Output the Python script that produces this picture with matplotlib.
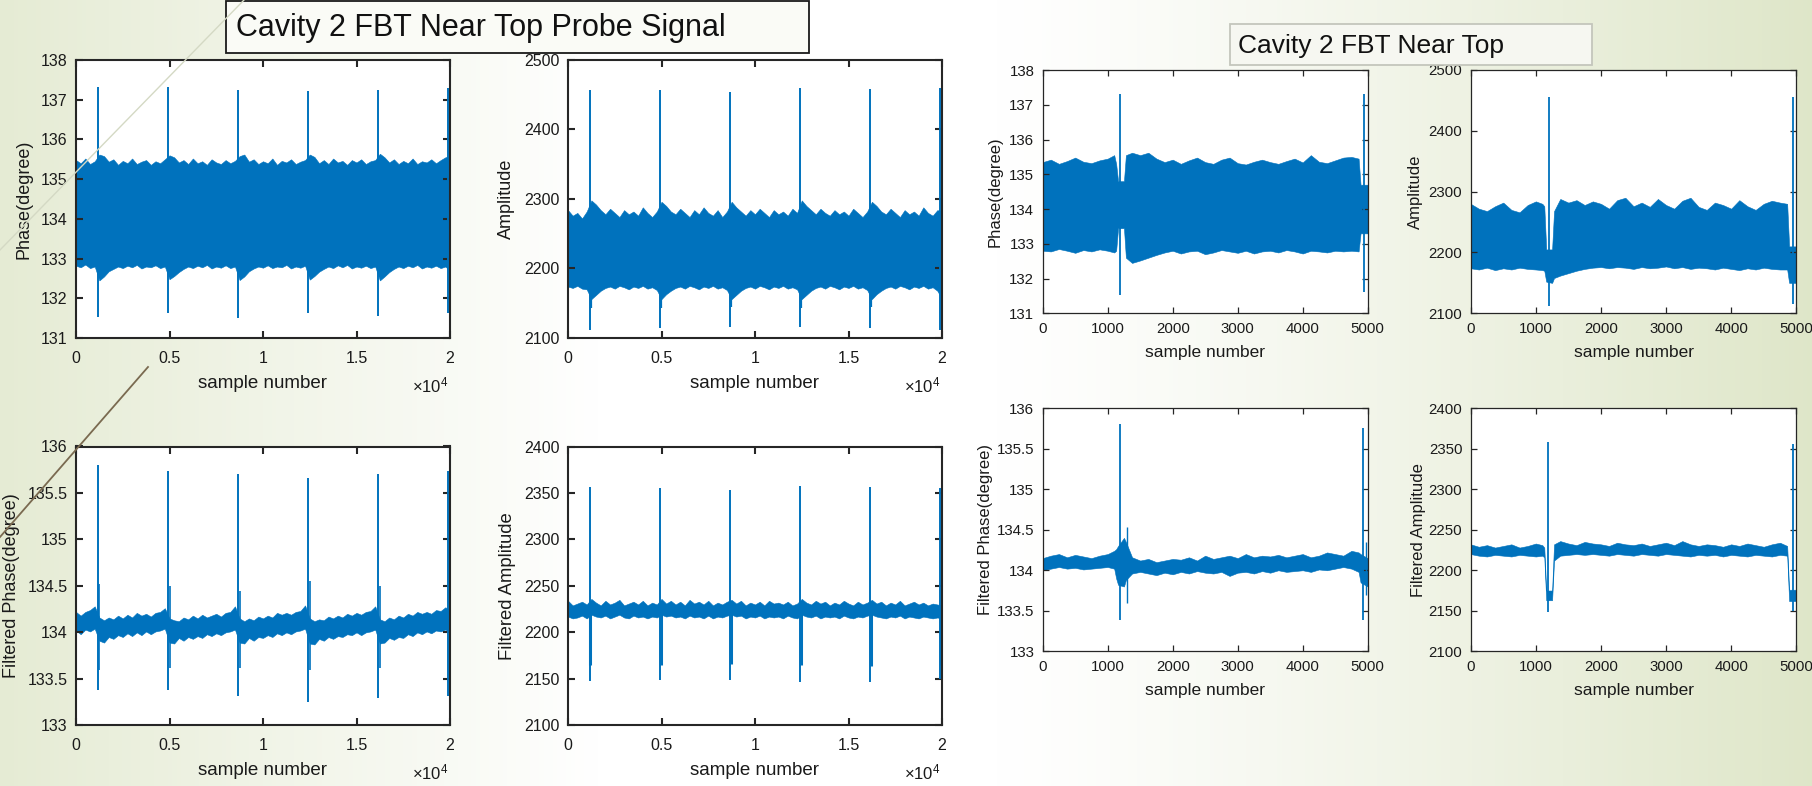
import numpy as np
import matplotlib
matplotlib.use("Agg")
import matplotlib.pyplot as plt
from matplotlib import font_manager as fm
from matplotlib.patches import Rectangle
from matplotlib.lines import Line2D

# ---------------- data ----------------
# left group: 20000 samples, envelope every 250 samples
L_x = np.arange(0, 20001, 250)
L_spike_x = [1150, 4900, 8650, 12400, 16150, 19900]
L_xticks = [0, 5000, 10000, 15000, 20000]
L_xticklabels = ["0", "0.5", "1", "1.5", "2"]

A_upper = [135.48, 135.40, 135.52, 135.38, 135.45, 135.62, 135.58, 135.44, 135.50, 135.36,
           135.46, 135.40, 135.52, 135.38, 135.44, 135.48, 135.36, 135.45, 135.40, 135.50,
           135.60, 135.55, 135.42, 135.48, 135.38, 135.52, 135.40, 135.45, 135.36, 135.50,
           135.42, 135.38, 135.48, 135.40, 135.46, 135.58, 135.62, 135.44, 135.50, 135.38,
           135.45, 135.40, 135.52, 135.36, 135.46, 135.42, 135.50, 135.38, 135.44, 135.48,
           135.62, 135.56, 135.40, 135.48, 135.38, 135.52, 135.42, 135.46, 135.36, 135.48,
           135.42, 135.50, 135.38, 135.45, 135.48, 135.64, 135.55, 135.42, 135.50, 135.38,
           135.46, 135.40, 135.52, 135.38, 135.45, 135.42, 135.50, 135.40, 135.48, 135.55,
           135.58]
A_lower = [132.82, 132.78, 132.85, 132.76, 132.80, 132.45, 132.55, 132.68, 132.74, 132.80,
           132.76, 132.82, 132.78, 132.84, 132.75, 132.80, 132.78, 132.83, 132.76, 132.80,
           132.48, 132.56, 132.66, 132.74, 132.80, 132.76, 132.82, 132.78, 132.84, 132.75,
           132.80, 132.77, 132.83, 132.76, 132.80, 132.46, 132.55, 132.68, 132.75, 132.80,
           132.77, 132.83, 132.76, 132.80, 132.78, 132.84, 132.75, 132.80, 132.77, 132.82,
           132.47, 132.56, 132.67, 132.74, 132.80, 132.76, 132.83, 132.78, 132.84, 132.75,
           132.80, 132.77, 132.82, 132.76, 132.80, 132.45, 132.55, 132.66, 132.74, 132.80,
           132.76, 132.82, 132.78, 132.84, 132.75, 132.80, 132.77, 132.82, 132.76, 132.80,
           132.70]
A_spike_top = [137.31, 137.31, 137.25, 137.22, 137.25, 137.30]
A_spike_bot = [131.53, 131.62, 131.50, 131.62, 131.55, 131.62]

B_upper = [2284, 2276, 2280, 2272, 2282, 2298, 2292, 2284, 2278, 2286,
           2280, 2274, 2284, 2278, 2282, 2276, 2288, 2280, 2274, 2282,
           2296, 2290, 2282, 2278, 2286, 2280, 2274, 2284, 2278, 2288,
           2280, 2276, 2284, 2274, 2282, 2296, 2288, 2282, 2276, 2284,
           2278, 2286, 2280, 2274, 2284, 2278, 2282, 2276, 2286, 2280,
           2298, 2290, 2284, 2278, 2286, 2280, 2276, 2284, 2278, 2282,
           2276, 2286, 2280, 2274, 2282, 2296, 2290, 2282, 2278, 2286,
           2280, 2274, 2284, 2278, 2282, 2276, 2288, 2280, 2276, 2284,
           2282]
B_lower = [2174, 2172, 2175, 2171, 2170, 2156, 2162, 2168, 2172, 2174,
           2171, 2175, 2173, 2170, 2174, 2172, 2175, 2171, 2173, 2169,
           2156, 2163, 2168, 2172, 2174, 2171, 2175, 2173, 2170, 2174,
           2172, 2175, 2171, 2173, 2169, 2156, 2162, 2168, 2172, 2174,
           2171, 2175, 2173, 2170, 2174, 2172, 2175, 2171, 2173, 2170,
           2156, 2162, 2168, 2172, 2174, 2171, 2175, 2173, 2170, 2174,
           2172, 2175, 2171, 2173, 2169, 2156, 2163, 2168, 2172, 2174,
           2171, 2175, 2173, 2170, 2174, 2172, 2175, 2171, 2173, 2168,
           2156]
B_spike_top = [2457, 2457, 2454, 2459, 2458, 2459]
B_spike_bot = [2112, 2114, 2116, 2116, 2115, 2112]
B_notch_x = [1220, 4970, 8720, 12470, 16220, 19960]
B_notch_lo = [2143, 2143, 2145, 2143, 2144, 2140]
B_notch_hi = [2280, 2280, 2280, 2280, 2280, 2280]

C_upper = [134.22, 134.18, 134.22, 134.24, 134.28, 134.16, 134.13, 134.16, 134.14, 134.18,
           134.15, 134.19, 134.16, 134.21, 134.18, 134.20, 134.17, 134.21, 134.22, 134.26,
           134.15, 134.13, 134.12, 134.16, 134.14, 134.18, 134.15, 134.19, 134.16, 134.18,
           134.20, 134.17, 134.21, 134.22, 134.28, 134.15, 134.12, 134.15, 134.13, 134.17,
           134.15, 134.18, 134.16, 134.21, 134.19, 134.21, 134.19, 134.22, 134.23, 134.29,
           134.15, 134.12, 134.14, 134.13, 134.17, 134.15, 134.18, 134.16, 134.20, 134.18,
           134.21, 134.19, 134.22, 134.23, 134.28, 134.14, 134.12, 134.16, 134.14, 134.18,
           134.16, 134.20, 134.18, 134.22, 134.20, 134.22, 134.20, 134.24, 134.23, 134.27,
           134.24]
C_lower = [134.02, 133.98, 134.03, 134.01, 134.04, 133.91, 133.89, 133.95, 133.93, 133.97,
           133.95, 133.99, 133.96, 134.00, 133.97, 134.01, 133.98, 134.01, 134.02, 134.04,
           133.89, 133.88, 133.94, 133.91, 133.95, 133.93, 133.96, 133.94, 133.98, 133.96,
           133.99, 133.97, 134.00, 134.01, 134.03, 133.89, 133.88, 133.94, 133.91, 133.95,
           133.94, 133.97, 133.95, 133.99, 133.97, 134.00, 133.98, 134.01, 134.02, 134.04,
           133.88, 133.87, 133.93, 133.91, 133.95, 133.93, 133.96, 133.95, 133.98, 133.97,
           134.00, 133.97, 134.00, 134.01, 134.03, 133.88, 133.89, 133.94, 133.92, 133.95,
           133.94, 133.98, 133.96, 134.00, 133.98, 134.01, 133.99, 134.02, 134.01, 134.03,
           134.00]
C_spike_top = [135.80, 135.74, 135.70, 135.66, 135.70, 135.74]
C_spike_bot = [133.38, 133.38, 133.31, 133.25, 133.29, 133.31]
C_sec_x = [1250, 5000, 8750, 12500, 16250, 19980]
C_sec_lo = [133.60, 133.62, 133.62, 133.60, 133.62, 133.60]
C_sec_hi = [134.52, 134.50, 134.45, 134.55, 134.50, 134.40]

D_upper = [2234, 2229, 2231, 2233, 2230, 2236, 2232, 2229, 2234, 2230,
           2232, 2235, 2229, 2231, 2233, 2230, 2234, 2229, 2232, 2230,
           2236, 2231, 2234, 2230, 2233, 2229, 2235, 2231, 2233, 2230,
           2234, 2229, 2232, 2230, 2233, 2235, 2231, 2234, 2229, 2232,
           2230, 2233, 2229, 2234, 2231, 2232, 2230, 2233, 2229, 2231,
           2236, 2232, 2230, 2234, 2231, 2233, 2229, 2232, 2230, 2234,
           2231, 2229, 2233, 2230, 2232, 2235, 2231, 2233, 2229, 2232,
           2230, 2234, 2229, 2231, 2233, 2230, 2232, 2229, 2231, 2230,
           2229]
D_lower = [2217, 2215, 2216, 2218, 2215, 2219, 2217, 2216, 2218, 2215,
           2217, 2219, 2216, 2215, 2218, 2216, 2217, 2215, 2217, 2216,
           2219, 2217, 2218, 2216, 2217, 2215, 2218, 2216, 2217, 2215,
           2218, 2215, 2217, 2216, 2218, 2219, 2217, 2218, 2215, 2217,
           2216, 2218, 2215, 2217, 2216, 2217, 2215, 2218, 2216, 2215,
           2219, 2217, 2216, 2218, 2215, 2217, 2216, 2217, 2215, 2218,
           2216, 2215, 2217, 2216, 2218, 2219, 2217, 2216, 2215, 2217,
           2216, 2218, 2215, 2217, 2216, 2215, 2217, 2216, 2215, 2216,
           2215]
D_spike_top = [2356, 2355, 2353, 2357, 2356, 2355]
D_spike_bot = [2148, 2149, 2149, 2147, 2147, 2150]
D_notch_x = [1200, 4950, 8700, 12450, 16200, 19950]
D_notch_lo = [2165, 2165, 2166, 2165, 2164, 2165]
D_notch_hi = [2220, 2220, 2220, 2220, 2220, 2220]

# right group: 5000 samples
R_x = [0, 125, 250, 375, 500, 625, 750, 875, 1000, 1100, 1130, 1160, 1250, 1280, 1375,
       1500, 1625, 1750, 1875, 2000, 2125, 2250, 2375, 2500, 2625, 2750, 2875, 3000, 3125,
       3250, 3375, 3500, 3625, 3750, 3875, 4000, 4125, 4250, 4375, 4500, 4625, 4750, 4860,
       4890, 5000]
R_xticks = [0, 1000, 2000, 3000, 4000, 5000]

E_upper = [135.35, 135.42, 135.30, 135.38, 135.48, 135.36, 135.32, 135.40, 135.45, 135.55,
           135.30, 134.80, 134.80, 135.55, 135.62, 135.55, 135.62, 135.45, 135.35, 135.42,
           135.30, 135.40, 135.48, 135.35, 135.30, 135.42, 135.48, 135.32, 135.28, 135.36,
           135.42, 135.35, 135.30, 135.38, 135.45, 135.34, 135.55, 135.36, 135.32, 135.40,
           135.48, 135.50, 135.45, 134.70, 134.70]
E_lower = [132.80, 132.78, 132.85, 132.80, 132.74, 132.82, 132.78, 132.84, 132.80, 132.75,
           132.80, 133.45, 133.45, 132.60, 132.45, 132.52, 132.60, 132.68, 132.75, 132.80,
           132.72, 132.78, 132.80, 132.70, 132.75, 132.82, 132.78, 132.74, 132.80, 132.72,
           132.78, 132.80, 132.75, 132.82, 132.78, 132.72, 132.80, 132.78, 132.75, 132.80,
           132.78, 132.80, 132.78, 133.30, 133.30]
E_spike_x = [1190, 4938]
E_spike_top = [137.30, 137.30]
E_spike_bot = [131.53, 131.62]

F_upper = [2280, 2272, 2268, 2276, 2282, 2270, 2266, 2278, 2284, 2280,
           2276, 2205, 2205, 2268, 2288, 2282, 2286, 2278, 2284, 2280,
           2272, 2286, 2290, 2276, 2282, 2275, 2288, 2278, 2272, 2285,
           2290, 2275, 2270, 2282, 2278, 2272, 2286, 2276, 2270, 2280,
           2285, 2282, 2280, 2210, 2210]
F_lower = [2174, 2172, 2175, 2171, 2174, 2172, 2175, 2173, 2172, 2171,
           2170, 2152, 2150, 2158, 2162, 2166, 2170, 2173, 2175, 2176,
           2174, 2176, 2175, 2173, 2176, 2174, 2175, 2177, 2174, 2176,
           2173, 2175, 2174, 2172, 2175, 2173, 2171, 2174, 2172, 2175,
           2173, 2172, 2172, 2150, 2150]
F_spike_x = [1195, 4955]
F_spike_top = [2456, 2455]
F_spike_bot = [2112, 2115]

G_upper = [134.15, 134.18, 134.20, 134.16, 134.19, 134.17, 134.15, 134.18, 134.20, 134.24,
           134.26, 134.30, 134.40, 134.35, 134.16, 134.12, 134.14, 134.10, 134.12, 134.14,
           134.13, 134.16, 134.12, 134.18, 134.14, 134.16, 134.18, 134.15, 134.20, 134.16,
           134.18, 134.17, 134.19, 134.16, 134.18, 134.20, 134.16, 134.18, 134.22, 134.20,
           134.18, 134.24, 134.22, 134.20, 134.15]
G_lower = [134.00, 134.02, 134.04, 134.02, 134.03, 134.01, 134.02, 134.03, 134.04, 134.02,
           133.90, 133.82, 133.80, 133.88, 133.96, 133.98, 133.96, 133.94, 133.97, 133.95,
           133.98, 133.96, 133.99, 133.97, 133.96, 133.98, 133.93, 133.97, 133.98, 133.96,
           133.99, 133.97, 134.00, 133.98, 133.99, 134.00, 133.98, 134.01, 134.00, 134.02,
           134.04, 134.02, 133.98, 133.85, 133.80]
G_spike_x = [1190, 4935]
G_spike_top = [135.81, 135.75]
G_spike_bot = [133.39, 133.39]
G_sec_x = [1290, 4975]
G_sec_lo = [133.60, 133.70]
G_sec_hi = [134.54, 134.35]

H_upper = [2232, 2229, 2231, 2228, 2230, 2232, 2228, 2230, 2233, 2231,
           2228, 2175, 2175, 2232, 2236, 2233, 2231, 2235, 2233, 2232,
           2230, 2234, 2232, 2231, 2233, 2230, 2232, 2234, 2231, 2236,
           2232, 2230, 2232, 2231, 2229, 2232, 2230, 2233, 2231, 2229,
           2232, 2234, 2230, 2176, 2176]
H_lower = [2220, 2218, 2217, 2219, 2218, 2217, 2219, 2218, 2217, 2218,
           2216, 2163, 2163, 2212, 2218, 2219, 2220, 2219, 2220, 2219,
           2218, 2220, 2219, 2218, 2220, 2219, 2218, 2220, 2219, 2218,
           2217, 2219, 2218, 2219, 2217, 2219, 2218, 2217, 2219, 2218,
           2217, 2219, 2218, 2162, 2162]
H_spike_x = [1192, 4952]
H_spike_top = [2358, 2356]
H_spike_bot = [2148, 2150]

TITLE_LEFT = "Cavity 2 FBT Near Top Probe Signal"
TITLE_RIGHT = "Cavity 2 FBT Near Top"

# ---------------- style ----------------
BLUE = "#0072BD"
AXC = "#262626"
names = {f.name for f in fm.fontManager.ttflist}
SANS = "Liberation Sans" if "Liberation Sans" in names else "DejaVu Sans"
NARROW = "Liberation Sans Narrow" if "Liberation Sans Narrow" in names else SANS
plt.rcParams["font.family"] = [SANS, "DejaVu Sans"]
plt.rcParams["mathtext.fontset"] = "custom"
plt.rcParams["mathtext.rm"] = SANS
plt.rcParams["mathtext.it"] = SANS

W, H = 1812, 786
fig = plt.figure(figsize=(W / 100, H / 100), dpi=100)

# background gradient
bg = fig.add_axes([0, 0, 1, 1], zorder=-10)
xs = np.linspace(0, 1, 400)
ys = np.linspace(0, 1, 200)
XX, YY = np.meshgrid(xs, ys)
wl = np.clip((0.33 - XX) / 0.33, 0, 1) * 0.75
wr = np.clip((XX - 0.55) / 0.45, 0, 1) ** 1.2 * 0.95
w = np.clip(wl + wr, 0, 1)
green = np.array([221, 229, 198]) / 255.0
img = (1 - w[..., None]) * np.array([1.0, 1.0, 1.0]) + w[..., None] * green
bg.imshow(img, extent=[0, 1, 0, 1], aspect="auto", origin="upper")
bg.set_xlim(0, 1)
bg.set_ylim(0, 1)
bg.axis("off")

def px_axes(x0, y0, x1, y1):
    return fig.add_axes([x0 / W, 1 - y1 / H, (x1 - x0) / W, (y1 - y0) / H])

def style(ax, xlim, ylim, yticks, xticks, xticklabels, tickfont, ticksize, spw, tlen, xpad):
    ax.set_facecolor("white")
    ax.set_xlim(*xlim)
    ax.set_ylim(*ylim)
    ax.set_yticks(yticks)
    ax.set_xticks(xticks)
    ax.set_xticklabels(xticklabels)
    for sp in ax.spines.values():
        sp.set_color(AXC)
        sp.set_linewidth(spw)
    ax.tick_params(direction="in", top=True, right=True, length=tlen, width=spw,
                   colors=AXC, labelsize=ticksize, pad=6)
    ax.tick_params(axis="x", pad=xpad)
    for lab in ax.get_xticklabels() + ax.get_yticklabels():
        lab.set_family([tickfont, "DejaVu Sans"])
        lab.set_color("#1a1a1a")

def band(ax, x, up, lo):
    ax.fill_between(x, lo, up, color=BLUE, lw=0.4, edgecolor=BLUE)

def spikes(ax, x, top, bot, lw=1.4):
    ax.vlines(x, bot, top, color=BLUE, lw=lw)

# ---- left group ----
axA = px_axes(76, 60, 450, 338)
band(axA, L_x, A_upper, A_lower)
spikes(axA, L_spike_x, A_spike_top, A_spike_bot)
style(axA, (0, 20000), (131, 138), [131, 132, 133, 134, 135, 136, 137, 138],
      L_xticks, L_xticklabels, SANS, 11.5, 1.5, 5, 9.5)
axA.set_ylabel("Phase(degree)", fontsize=13, color="#1a1a1a")
axA.yaxis.set_label_coords(-43 / 374, 0.5)

axB = px_axes(568, 60, 942, 338)
band(axB, L_x, B_upper, B_lower)
spikes(axB, B_notch_x, B_notch_hi, B_notch_lo, lw=1.6)
spikes(axB, L_spike_x, B_spike_top, B_spike_bot)
style(axB, (0, 20000), (2100, 2500), [2100, 2200, 2300, 2400, 2500],
      L_xticks, L_xticklabels, SANS, 11.5, 1.5, 5, 9.5)
axB.set_ylabel("Amplitude", fontsize=13, color="#1a1a1a")
axB.yaxis.set_label_coords(-53 / 374, 0.5)

axC = px_axes(76, 446.5, 450, 725.3)
band(axC, L_x, C_upper, C_lower)
spikes(axC, C_sec_x, C_sec_hi, C_sec_lo, lw=1.2)
spikes(axC, L_spike_x, C_spike_top, C_spike_bot)
style(axC, (0, 20000), (133, 136), [133, 133.5, 134, 134.5, 135, 135.5, 136],
      L_xticks, L_xticklabels, SANS, 11.5, 1.5, 5, 9.5)
axC.set_yticklabels(["133", "133.5", "134", "134.5", "135", "135.5", "136"])
for lab in axC.get_yticklabels():
    lab.set_family([SANS, "DejaVu Sans"])
axC.set_ylabel("Filtered Phase(degree)", fontsize=13, color="#1a1a1a")
axC.yaxis.set_label_coords(-56 / 374, 0.5)

axD = px_axes(568, 446.5, 942, 725.3)
band(axD, L_x, D_upper, D_lower)
spikes(axD, D_notch_x, D_notch_hi, D_notch_lo, lw=2.2)
spikes(axD, L_spike_x, D_spike_top, D_spike_bot)
style(axD, (0, 20000), (2100, 2400), [2100, 2150, 2200, 2250, 2300, 2350, 2400],
      L_xticks, L_xticklabels, SANS, 11.5, 1.5, 5, 9.5)
axD.set_ylabel("Filtered Amplitude", fontsize=13.3, color="#1a1a1a")
axD.yaxis.set_label_coords(-52 / 374, 0.5)

for ax in (axA, axB, axC, axD):
    ax.set_xlabel("sample number", fontsize=13.5, color="#1a1a1a")
    ax.xaxis.set_label_coords(0.5, -37 / 278)
    ax.annotate(r"$\times10^{4}$", xy=(1, 0), xycoords="axes fraction",
                xytext=(-2, -47), textcoords="offset pixels", ha="right", va="center",
                fontsize=12, color="#1a1a1a")

# ---- right group ----
axE = px_axes(1042.7, 70, 1367.7, 313.3)
band(axE, R_x, E_upper, E_lower)
spikes(axE, E_spike_x, E_spike_top, E_spike_bot, lw=1.3)
style(axE, (0, 5000), (131, 138), [131, 132, 133, 134, 135, 136, 137, 138],
      R_xticks, [str(v) for v in R_xticks], NARROW, 10.8, 0.9, 4, 6)
axE.set_ylabel("Phase(degree)", fontsize=12, color="#1a1a1a")
axE.yaxis.set_label_coords(-40 / 325, 0.5)

axF = px_axes(1470.7, 70, 1796.3, 313.3)
band(axF, R_x, F_upper, F_lower)
spikes(axF, F_spike_x, F_spike_top, F_spike_bot, lw=1.3)
style(axF, (0, 5000), (2100, 2500), [2100, 2200, 2300, 2400, 2500],
      R_xticks, [str(v) for v in R_xticks], NARROW, 10.8, 0.9, 4, 6)
axF.set_ylabel("Amplitude", fontsize=12, color="#1a1a1a")
axF.yaxis.set_label_coords(-48 / 325.6, 0.5)

axG = px_axes(1042.7, 408.2, 1367.7, 651.3)
band(axG, R_x, G_upper, G_lower)
spikes(axG, G_sec_x, G_sec_hi, G_sec_lo, lw=1.0)
spikes(axG, G_spike_x, G_spike_top, G_spike_bot, lw=1.3)
style(axG, (0, 5000), (133, 136), [133, 133.5, 134, 134.5, 135, 135.5, 136],
      R_xticks, [str(v) for v in R_xticks], NARROW, 10.8, 0.9, 4, 6)
axG.set_yticklabels(["133", "133.5", "134", "134.5", "135", "135.5", "136"])
for lab in axG.get_yticklabels():
    lab.set_family([NARROW, "DejaVu Sans"])
axG.set_ylabel("Filtered Phase(degree)", fontsize=12, color="#1a1a1a")
axG.yaxis.set_label_coords(-50 / 325, 0.5)

axH = px_axes(1470.7, 408.2, 1796.3, 651.3)
band(axH, R_x, H_upper, H_lower)
spikes(axH, H_spike_x, H_spike_top, H_spike_bot, lw=1.3)
style(axH, (0, 5000), (2100, 2400), [2100, 2150, 2200, 2250, 2300, 2350, 2400],
      R_xticks, [str(v) for v in R_xticks], NARROW, 10.8, 0.9, 4, 6)
axH.set_ylabel("Filtered Amplitude", fontsize=12, color="#1a1a1a")
axH.yaxis.set_label_coords(-45 / 325.6, 0.5)

for ax in (axE, axF, axG, axH):
    ax.set_xlabel("sample number", fontsize=12.5, color="#1a1a1a")
    ax.xaxis.set_label_coords(0.5, -32 / 243.3)

# ---- overlay: title boxes and decorative lines ----
ov = fig.add_axes([0, 0, 1, 1], zorder=20)
ov.set_xlim(0, W)
ov.set_ylim(H, 0)
ov.axis("off")
ov.add_line(Line2D([244, 0], [0, 250], color="#d4d9c4", lw=1.0))
ov.add_line(Line2D([148, 0], [367, 537], color="#7a6a50", lw=1.3))
ov.add_patch(Rectangle((226, 1), 583, 52, facecolor="#fafbf6", edgecolor="#1a1a1a", lw=1.3))
ov.text(236, 28, TITLE_LEFT, fontsize=22, ha="left", va="center", color="#111111")
ov.add_patch(Rectangle((1230, 23.5), 361.5, 41.5, facecolor="#f6f7f1", edgecolor="#c4c6bc", lw=1.3))
ov.text(1238, 46, TITLE_RIGHT, fontsize=19, ha="left", va="center", color="#111111")

fig.savefig("out.png", dpi=100)
